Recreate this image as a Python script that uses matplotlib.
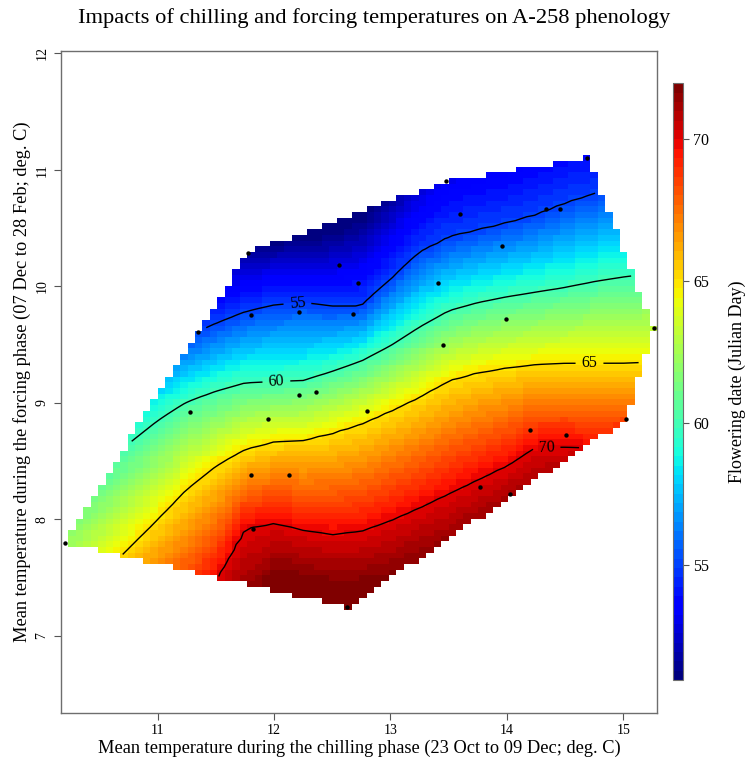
import numpy as np
import matplotlib
matplotlib.use("Agg")
import matplotlib.pyplot as plt
from matplotlib.path import Path

plt.rcParams['font.family'] = ['Liberation Serif', 'DejaVu Serif']

# Observed seasons: mean chilling-phase and forcing-phase temperatures (deg. C)
chill_temp = [10.20, 11.28, 11.35, 11.78, 11.80, 11.80, 11.82, 11.95, 12.13, 12.21,
              12.21, 12.36, 12.56, 12.63, 12.68, 12.72, 12.80, 13.41, 13.45, 13.48,
              13.60, 13.77, 13.96, 13.99, 14.03, 14.20, 14.34, 14.46, 14.51, 14.69,
              15.02, 15.26]
force_temp = [7.80, 8.92, 9.61, 10.29, 9.75, 8.38, 7.92, 8.86, 8.38, 9.78,
              9.07, 9.09, 10.18, 7.25, 9.76, 10.03, 8.93, 10.03, 9.50, 10.90,
              10.62, 8.28, 10.35, 9.72, 8.22, 8.77, 10.66, 10.66, 8.72, 11.10,
              8.86, 9.64]

# Fitted flowering-date surface, given as the forcing temperature at which
# each flowering date (Julian day) is reached, per chilling-temperature node
chill_nodes = [10.0, 10.25, 10.5, 10.75, 11.0, 11.25, 11.5, 11.75, 12.0, 12.25,
               12.5, 12.75, 13.0, 13.25, 13.5, 13.75, 14.0, 14.25, 14.5, 14.75,
               15.0, 15.25, 15.5]
iso_days = [72, 70, 65, 60, 55, 51]
iso_72 = [5.50, 5.75, 6.00, 6.25, 6.50, 6.70, 6.90, 7.10, 7.50, 7.45, 7.40, 7.40,
          7.45, 7.55, 7.65, 7.80, 7.95, 8.10, 8.25, 8.40, 8.50, 8.52, 8.54]
iso_70 = [6.20, 6.40, 6.60, 6.80, 6.95, 7.15, 7.48, 7.92, 7.97, 7.91, 7.87, 7.90,
          7.99, 8.10, 8.22, 8.34, 8.46, 8.62, 8.62, 8.61, 8.62, 8.63, 8.64]
iso_65 = [7.00, 7.25, 7.50, 7.75, 8.00, 8.26, 8.46, 8.60, 8.665, 8.68, 8.74, 8.82,
          8.93, 9.05, 9.19, 9.26, 9.30, 9.33, 9.34, 9.34, 9.34, 9.35, 9.36]
iso_60 = [8.05, 8.25, 8.45, 8.65, 8.85, 9.01, 9.10, 9.17, 9.18, 9.19, 9.27, 9.36,
          9.49, 9.65, 9.79, 9.86, 9.91, 9.95, 9.99, 10.04, 10.08, 10.11, 10.14]
iso_55 = [9.10, 9.20, 9.30, 9.40, 9.48, 9.57, 9.68, 9.78, 9.84, 9.86, 9.83, 9.83,
          10.06, 10.29, 10.42, 10.48, 10.54, 10.61, 10.71, 10.79, 10.86, 10.92, 10.98]
iso_51 = [9.90, 9.95, 10.00, 10.08, 10.15, 10.22, 10.30, 10.42, 10.40, 10.42, 10.48,
          10.60, 10.85, 11.20, 11.50, 11.60, 11.70, 11.80, 11.90, 11.95, 12.00, 12.05, 12.10]

contour_days = [55, 60, 65, 70]
day_range = (50.95, 71.95)
colorbar_ticks = [55, 60, 65, 70]

title = "Impacts of chilling and forcing temperatures on A-258 phenology"
xlabel = "Mean temperature during the chilling phase (23 Oct to 09 Dec; deg. C)"
ylabel = "Mean temperature during the forcing phase (07 Dec to 28 Feb; deg. C)"
cbar_label = "Flowering date (Julian Day)"

# ---- surface on an 80 x 80 grid over the range of the observations ----
nx = ny = 80
gx = np.linspace(min(chill_temp), max(chill_temp), nx)
gy = np.linspace(min(force_temp), max(force_temp), ny)
iso_rows = [iso_72, iso_70, iso_65, iso_60, iso_55, iso_51]
heights = np.array([np.interp(gx, chill_nodes, row) for row in iso_rows])
Z = np.empty((ny, nx))
for i in range(nx):
    Z[:, i] = np.interp(gy, heights[:, i], iso_days)


def convex_hull(points):
    pts = sorted(set(points))

    def cross(o, a, b):
        return (a[0] - o[0]) * (b[1] - o[1]) - (a[1] - o[1]) * (b[0] - o[0])

    lower, upper = [], []
    for p in pts:
        while len(lower) >= 2 and cross(lower[-2], lower[-1], p) <= 0:
            lower.pop()
        lower.append(p)
    for p in reversed(pts):
        while len(upper) >= 2 and cross(upper[-2], upper[-1], p) <= 0:
            upper.pop()
        upper.append(p)
    return lower[:-1] + upper[:-1]


hull = np.array(convex_hull(list(zip(chill_temp, force_temp))))
centre = hull.mean(axis=0)
hull_path = Path(centre + (hull - centre) * 1.002)
GX, GY = np.meshgrid(gx, gy)
inside = hull_path.contains_points(np.c_[GX.ravel(), GY.ravel()]).reshape(GX.shape)
Zm = np.ma.masked_where(~inside, Z)

# ---- figure ----
fig = plt.figure(figsize=(7.49, 7.65), dpi=100)
ax = fig.add_axes([0.0814, 0.0676, 0.7964, 0.8657])
cmap = plt.get_cmap('jet', 64)

mesh = ax.pcolormesh(gx, gy, Zm, shading='nearest', cmap=cmap,
                     vmin=day_range[0], vmax=day_range[1])
cs = ax.contour(gx, gy, Zm, levels=contour_days, colors='black', linewidths=1.0)
ax.clabel(cs, fmt='%d', fontsize=11.5, inline=True, inline_spacing=6,
          manual=[(12.20, 9.86), (12.02, 9.18), (14.71, 9.34), (14.34, 8.61)])
ax.scatter(chill_temp, force_temp, s=10, c='black', zorder=5, linewidths=0)

ax.set_xlim(10.169, 15.294)
ax.set_ylim(6.335, 12.02)
ax.set_xticks([11, 12, 13, 14, 15])
ax.set_yticks([7, 8, 9, 10, 11, 12])
ax.tick_params(axis='both', direction='out', length=5, width=0.8,
               color='#555555', labelsize=10)
ax.tick_params(axis='x', pad=3)
ax.tick_params(axis='y', pad=4)
for lbl in ax.get_yticklabels():
    lbl.set_rotation(90)
    lbl.set_va('center')
for sp in ax.spines.values():
    sp.set_color('#6e6e6e')
    sp.set_linewidth(1.0)

ax.set_xlabel(xlabel, fontsize=13.2, labelpad=2)
ax.set_ylabel(ylabel, fontsize=13.2, labelpad=3)
fig.text(0.5, 0.977, title, ha='center', va='center', fontsize=16.2)

cax = fig.add_axes([0.899, 0.1111, 0.01335, 0.78])
cb = fig.colorbar(mesh, cax=cax)
cb.set_ticks(colorbar_ticks)
cb.ax.tick_params(labelsize=11.5, length=4, width=0.8, color='#555555', pad=3)
cb.outline.set_edgecolor('#6e6e6e')
cb.outline.set_linewidth(0.8)
cb.set_label(cbar_label, fontsize=13, labelpad=14)

fig.savefig("out.png", dpi=100)
